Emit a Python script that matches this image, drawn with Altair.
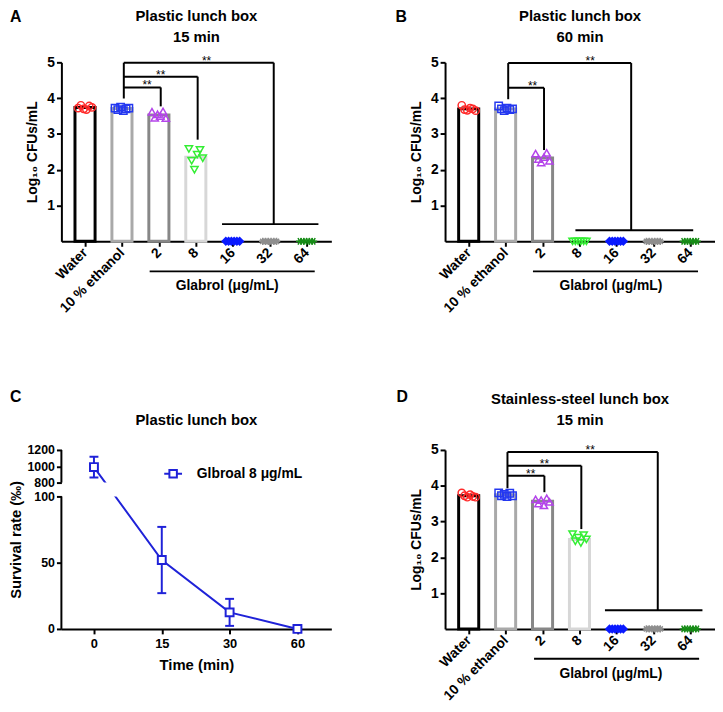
import json
import altair as alt
import pandas as pd

FONT = "Liberation Sans, Arial, DejaVu Sans, sans-serif"

groups = ["Water", "10 % ethanol", "2", "8", "16", "32", "64"]
bar_colors = ["#000000", "#a9a9a9", "#878787", "#d7d7d7", "#d7d7d7", "#d7d7d7", "#d7d7d7"]
pt_colors = ["#ff2a2a", "#2438f0", "#b444ea", "#33ee33", "#0a1aff", "#8e8e8e", "#168c16"]
pt_fills = ["transparent", "transparent", "transparent", "transparent", "#0a1aff", "transparent", "transparent"]
ASTER = "M-1,0H1M0,-1V1M-0.7,-0.7L0.7,0.7M-0.7,0.7L0.7,-0.7"
STAR = "M-1,0H1M-0.45,-0.9L0.45,0.9M-0.45,0.9L0.45,-0.9"
pt_shapes = ["circle", "square", "triangle-up", "triangle-down", "diamond", ASTER, STAR]

# ---- Panel A : plastic lunch box, 15 min
a_means = [3.74, 3.71, 3.53, 2.35, 0, 0, 0]
a_reps = [[3.72, 3.80, 3.70, 3.68, 3.78, 3.74],
          [3.72, 3.68, 3.75, 3.65, 3.70, 3.72],
          [3.62, 3.45, 3.55, 3.50, 3.63, 3.44],
          [2.58, 2.25, 2.00, 2.42, 2.55, 2.32],
          [0, 0, 0, 0, 0, 0], [0, 0, 0, 0, 0, 0], [0, 0, 0, 0, 0, 0]]
a_brackets = [(1.05, 4.30, 2.05, 4.30), (1.05, 4.60, 3.05, 4.60), (1.05, 4.99, 5.11, 4.99),
              (3.71, 0.48, 6.32, 0.48), (1.05, 3.99, 1.05, 4.99), (2.05, 3.77, 2.05, 4.30),
              (3.05, 2.84, 3.05, 4.60), (5.11, 0.48, 5.11, 4.99), (1.75, -0.84, 6.22, -0.84)]
a_stars = [(1.68, 4.30), (2.05, 4.60), (3.29, 4.99)]

# ---- Panel B : plastic lunch box, 60 min
b_means = [3.70, 3.70, 2.33, 0, 0, 0, 0]
b_reps = [[3.80, 3.68, 3.66, 3.72, 3.70, 3.65],
          [3.78, 3.70, 3.65, 3.72, 3.68, 3.70],
          [2.45, 2.30, 2.20, 2.35, 2.47, 2.25],
          [0, 0, 0, 0, 0, 0], [0, 0, 0, 0, 0, 0], [0, 0, 0, 0, 0, 0], [0, 0, 0, 0, 0, 0]]
b_brackets = [(1.07, 4.29, 2.04, 4.29), (1.07, 4.98, 4.40, 4.98), (2.89, 0.31, 6.08, 0.31),
              (1.07, 3.97, 1.07, 4.98), (2.04, 2.55, 2.04, 4.29), (4.40, 0.31, 4.40, 4.98),
              (1.74, -0.84, 6.21, -0.84)]
b_stars = [(1.73, 4.29), (3.29, 4.98)]

# ---- Panel D : stainless-steel lunch box, 15 min
d_means = [3.72, 3.75, 3.57, 2.50, 0, 0, 0]
d_reps = [[3.80, 3.72, 3.68, 3.75, 3.70, 3.68],
          [3.80, 3.72, 3.76, 3.70, 3.79, 3.72],
          [3.62, 3.50, 3.60, 3.45, 3.65, 3.55],
          [2.65, 2.45, 2.55, 2.40, 2.62, 2.50],
          [0, 0, 0, 0, 0, 0], [0, 0, 0, 0, 0, 0], [0, 0, 0, 0, 0, 0]]
d_brackets = [(1.05, 4.28, 2.05, 4.28), (1.05, 4.56, 3.05, 4.56), (1.05, 4.94, 5.12, 4.94),
              (3.69, 0.52, 6.33, 0.52), (1.05, 3.93, 1.05, 4.94), (2.05, 3.82, 2.05, 4.28),
              (3.05, 2.79, 3.05, 4.56), (5.12, 0.52, 5.12, 4.94), (1.77, -0.83, 6.24, -0.83)]
d_stars = [(1.68, 4.28), (2.05, 4.56), (3.29, 4.94)]

glabrol_label = "Glabrol (μg/mL)"
glabrol_pos = (3.85, -1.25)

# ---- Panel C : survival curve
time_labels = ["0", "15", "30", "60"]
surv_mean = [990, 52, 12.5, 0]
surv_sd = [127, 25, 10.2, 0]
series_name = "Glbroal 8 μg/mL"
axis_break = [(0, 100), (800, 1200)]
gap = (100, 800)
BLUE = "#1f22d8"

W, H = 273, 181


def bar_panel(means, reps, brackets, stars, letter, letter_x, top_y, title_lines):
    xs = alt.Scale(domain=[-0.64, 6.67], nice=False, zero=False)
    ys = alt.Scale(domain=[0, 5], nice=False, zero=False)
    expr = "[" + ",".join(json.dumps(g) for g in groups) + "][datum.value]"
    x_axis = alt.Axis(values=list(range(7)), labelExpr=expr, labelAngle=-45, labelAlign="right",
                      labelBaseline="middle", labelFontSize=14, labelFontWeight="bold", labelFont=FONT,
                      labelPadding=4, tickSize=5, tickWidth=2, domainWidth=2, title=None,
                      labelOverlap=False, labelBound=False, labelFlush=False)
    y_axis = alt.Axis(values=[1, 2, 3, 4, 5], labelFontSize=14, labelFontWeight="bold", labelFont=FONT,
                      labelPadding=2, tickSize=5, tickWidth=2, domainWidth=2,
                      title="Log₁₀ CFUs/mL", titleFontSize=14, titleFontWeight="bold", titleFont=FONT,
                      titlePadding=7, labelOverlap=False)
    bars = pd.DataFrame({"grp": groups, "idx": list(range(7)), "mean": means})
    pts = pd.DataFrame([{"cat": g, "idx": i, "rep": r, "val": v}
                        for i, (g, vals) in enumerate(zip(groups, reps)) for r, v in enumerate(vals)])
    seg = pd.DataFrame(brackets, columns=["x1", "y1", "x2", "y2"])
    st = pd.DataFrame(stars, columns=["sx", "sy"])
    gl = pd.DataFrame({"gx": [glabrol_pos[0]], "gy": [glabrol_pos[1]], "t": [glabrol_label]})

    def X(f):
        return alt.X(f, scale=xs, axis=x_axis)

    def Y(f):
        return alt.Y(f, scale=ys, axis=y_axis)

    bar_layer = alt.Chart(bars).transform_filter("datum.mean > 0").transform_calculate(
        xl="datum.idx - 0.272", xr="datum.idx + 0.272"
    ).mark_rect(fill="white", strokeWidth=3).encode(
        x=X("xl:Q"), x2="xr:Q", y=Y("mean:Q"), y2=alt.datum(0),
        stroke=alt.Stroke("grp:N", scale=alt.Scale(domain=groups, range=bar_colors), legend=None),
    )
    pt_layer = alt.Chart(pts).transform_calculate(
        px="datum.idx + (datum.rep - 2.5) * 0.075"
    ).mark_point(size=55, strokeWidth=1.5, opacity=1).encode(
        x=X("px:Q"), y=Y("val:Q"),
        color=alt.Color("cat:N", scale=alt.Scale(domain=groups, range=pt_colors), legend=None),
        fill=alt.Fill("cat:N", scale=alt.Scale(domain=groups, range=pt_fills), legend=None),
        shape=alt.Shape("cat:N", scale=alt.Scale(domain=groups, range=pt_shapes), legend=None),
    )
    rule_layer = alt.Chart(seg).mark_rule(strokeWidth=2, color="black").encode(
        x=X("x1:Q"), x2="x2:Q", y=Y("y1:Q"), y2="y2:Q",
    )
    star_layer = alt.Chart(st).mark_text(text="**", fontSize=12, font=FONT, baseline="alphabetic",
                                         dy=2, color="black").encode(
        x=X("sx:Q"), y=Y("sy:Q"),
    )
    gl_layer = alt.Chart(gl).mark_text(fontSize=14, fontWeight="bold", font=FONT, color="black").encode(
        x=X("gx:Q"), y=Y("gy:Q"), text="t:N",
    )
    letter_layer = alt.Chart(pd.DataFrame({"t": [letter]})).mark_text(
        fontSize=16, fontWeight="bold", font=FONT, align="left", baseline="top", color="black"
    ).encode(text="t:N", x=alt.value(letter_x), y=alt.value(top_y[0]))
    title_layer = alt.Chart(pd.DataFrame({"k": [0]})).mark_text(
        text=title_lines, fontSize=15, fontWeight="bold", font=FONT, align="center", baseline="top",
        lineHeight=21, color="black"
    ).encode(x=alt.value(W / 2), y=alt.value(top_y[1]))
    return alt.layer(bar_layer, rule_layer, pt_layer, star_layer, gl_layer, letter_layer,
                     title_layer).properties(width=W, height=H)


def curve_panel():
    xs = alt.Scale(domain=[-0.48, 3.5], nice=False, zero=False)
    ys = alt.Scale(domain=[0, 100, 800, 1200], range=[H, 47, 33, 0], nice=False, zero=False)
    expr = "[" + ",".join(json.dumps(t) for t in time_labels) + "][datum.value]"
    x_axis = alt.Axis(values=[0, 1, 2, 3], labelExpr=expr, labelAngle=0, labelFontSize=13,
                      labelFontWeight="bold", labelFont=FONT, labelPadding=4, tickSize=5, tickWidth=2,
                      domainWidth=2, title="Time (min)", titleFontSize=15, titleFontWeight="bold",
                      titleFont=FONT, titlePadding=7)
    y_axis = alt.Axis(values=[0, 50, 100, 800, 1000, 1200], format="d", domain=False, labelFontSize=12.5,
                      labelFontWeight="bold", labelFont=FONT, labelPadding=2, tickSize=5, tickWidth=2,
                      title="Survival rate (‰)", titleFontSize=15, titleFontWeight="bold",
                      titleFont=FONT, titlePadding=4, labelOverlap=False)

    def X(f):
        return alt.X(f, scale=xs, axis=x_axis)

    def Y(f):
        return alt.Y(f, scale=ys, axis=y_axis)

    df = pd.DataFrame({"idx": [0, 1, 2, 3], "mean": surv_mean, "sd": surv_sd,
                       "series": [series_name] * 4})
    leg_sym = "M-1,0H-0.42M0.42,0H1M-0.42,-0.42H0.42V0.42H-0.42Z"
    line = alt.Chart(df).mark_line(strokeWidth=2).encode(
        x=X("idx:Q"), y=Y("mean:Q"),
        color=alt.Color("series:N", scale=alt.Scale(domain=[series_name], range=[BLUE]),
                        legend=alt.Legend(orient="none", legendX=103, legendY=14, title=None,
                                          symbolType=leg_sym, symbolSize=324, symbolStrokeWidth=2,
                                          symbolFillColor="white", labelFontSize=14,
                                          labelFontWeight="bold", labelFont=FONT, labelColor="black",
                                          labelOffset=14, padding=0)),
    )
    mask = alt.Chart(pd.DataFrame({"g0": [gap[0]], "g1": [gap[1]]})).mark_rect(fill="white").encode(
        x=alt.value(3), x2=alt.value(W), y=Y("g0:Q"), y2="g1:Q",
    )
    err = alt.Chart(df).transform_filter("datum.sd > 0").transform_calculate(
        lo="datum.mean - datum.sd", hi="datum.mean + datum.sd"
    )
    err_rule = err.mark_rule(strokeWidth=2, color=BLUE).encode(
        x=X("idx:Q"), y=Y("lo:Q"), y2="hi:Q",
    )
    caps = err.transform_fold(["lo", "hi"], as_=["k", "v"]).mark_tick(
        orient="horizontal", size=9, thickness=2, color=BLUE, opacity=1
    ).encode(x=X("idx:Q"), y=Y("v:Q"))
    pts = alt.Chart(df).mark_point(shape="square", size=64, strokeWidth=2, filled=False,
                                   color=BLUE, fill="white", opacity=1).encode(
        x=X("idx:Q"), y=Y("mean:Q"),
    )
    brk = alt.Chart(pd.DataFrame(axis_break, columns=["b0", "b1"])).mark_rule(
        strokeWidth=2, color="black").encode(
        x=alt.value(0), y=Y("b0:Q"), y2="b1:Q",
    )
    letter_layer = alt.Chart(pd.DataFrame({"t": ["C"]})).mark_text(
        fontSize=16, fontWeight="bold", font=FONT, align="left", baseline="top", color="black"
    ).encode(text="t:N", x=alt.value(-52), y=alt.value(-61))
    title_layer = alt.Chart(pd.DataFrame({"k": [0]})).mark_text(
        text="Plastic lunch box", fontSize=15, fontWeight="bold", font=FONT, align="center",
        baseline="top", color="black"
    ).encode(x=alt.value(W / 2), y=alt.value(-37.5))
    return alt.layer(line, mask, err_rule, caps, pts, brk, letter_layer, title_layer).properties(
        width=W, height=H)


pA = bar_panel(a_means, a_reps, a_brackets, a_stars, "A", -52, (-54, -54),
               ["Plastic lunch box", "15 min"])
pB = bar_panel(b_means, b_reps, b_brackets, b_stars, "B", -50, (-54, -54),
               ["Plastic  lunch box", "60 min"])
pC = curve_panel()
pD = bar_panel(d_means, d_reps, d_brackets, d_stars, "D", -49, (-61, -58),
               ["Stainless-steel lunch box", "15 min"])

chart = alt.concat(pA, pB, pC, pD, columns=2, spacing={"row": 211, "column": 115},
                   bounds="flush").resolve_scale(
    x="independent", y="independent", color="independent", fill="independent",
    shape="independent", stroke="independent"
).resolve_legend(color="independent").properties(
    padding={"left": 0, "top": -3, "right": 0, "bottom": 0}
).configure_view(
    stroke=None
).configure_axis(
    grid=False, domainColor="black", tickColor="black", labelColor="black", titleColor="black",
    zindex=1
)

chart.save("out.html", embed_options={"renderer": "svg", "actions": False})
